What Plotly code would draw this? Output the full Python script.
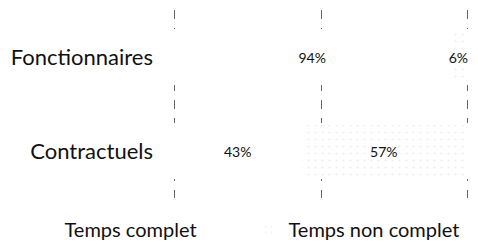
import plotly.graph_objects as go

categories = ["Fonctionnaires", "Contractuels"]
series_names = ["Temps complet", "Temps non complet"]
temps_complet = [0.94, 0.43]
temps_non_complet = [0.06, 0.57]
x_tickvals = [0, 0.5, 1]

FONT = "Lato"

fig = go.Figure()
fig.add_trace(go.Bar(
    y=categories, x=temps_complet, name=series_names[0], orientation="h",
    marker=dict(color="white", line=dict(width=2, color="white")),
    texttemplate="%{x:.0%}", textposition="inside", insidetextanchor="middle",
    textangle=0, constraintext="none",
    textfont=dict(family=FONT, size=14, color="#111"),
    hoverinfo="skip",
))
fig.add_trace(go.Bar(
    y=categories, x=temps_non_complet, name=series_names[1], orientation="h",
    marker=dict(color="white", line=dict(width=2, color="white"),
                pattern=dict(shape=".", fgcolor="#dcdcdc", size=7, solidity=0.08)),
    texttemplate="%{x:.0%}", textposition="inside", insidetextanchor="middle",
    textangle=0, constraintext="none",
    textfont=dict(family=FONT, size=14, color="#111"),
    hoverinfo="skip",
))

fig.update_layout(
    width=478, height=250,
    barmode="stack", bargap=0.42,
    margin=dict(l=172, r=8, t=10, b=52, autoexpand=False),
    paper_bgcolor="white", plot_bgcolor="white",
    font=dict(family=FONT, size=22, color="#111"),
    uniformtext=dict(minsize=14, mode="show"),
    showlegend=True,
    legend=dict(orientation="h", traceorder="normal",
                x=-0.495, xanchor="left", xref="paper",
                y=-0.272, yanchor="bottom", yref="paper",
                font=dict(family=FONT, size=20, color="#111"),
                entrywidth=179, entrywidthmode="pixels",
                itemclick=False, itemdoubleclick=False),
    xaxis=dict(range=[-0.01, 1.01], tickvals=x_tickvals, showticklabels=False,
               showgrid=True, gridcolor="#666", griddash="dash", gridwidth=1,
               zeroline=False, showline=False, fixedrange=True, automargin=False),
    yaxis=dict(categoryorder="array", categoryarray=categories, autorange="reversed",
               showgrid=False, zeroline=False, showline=False, ticks="",
               ticklabelstandoff=18, fixedrange=True, automargin=False),
)

fig.write_html("out.html", config={"displayModeBar": False},
               post_script="document.body.style.margin='0';")
